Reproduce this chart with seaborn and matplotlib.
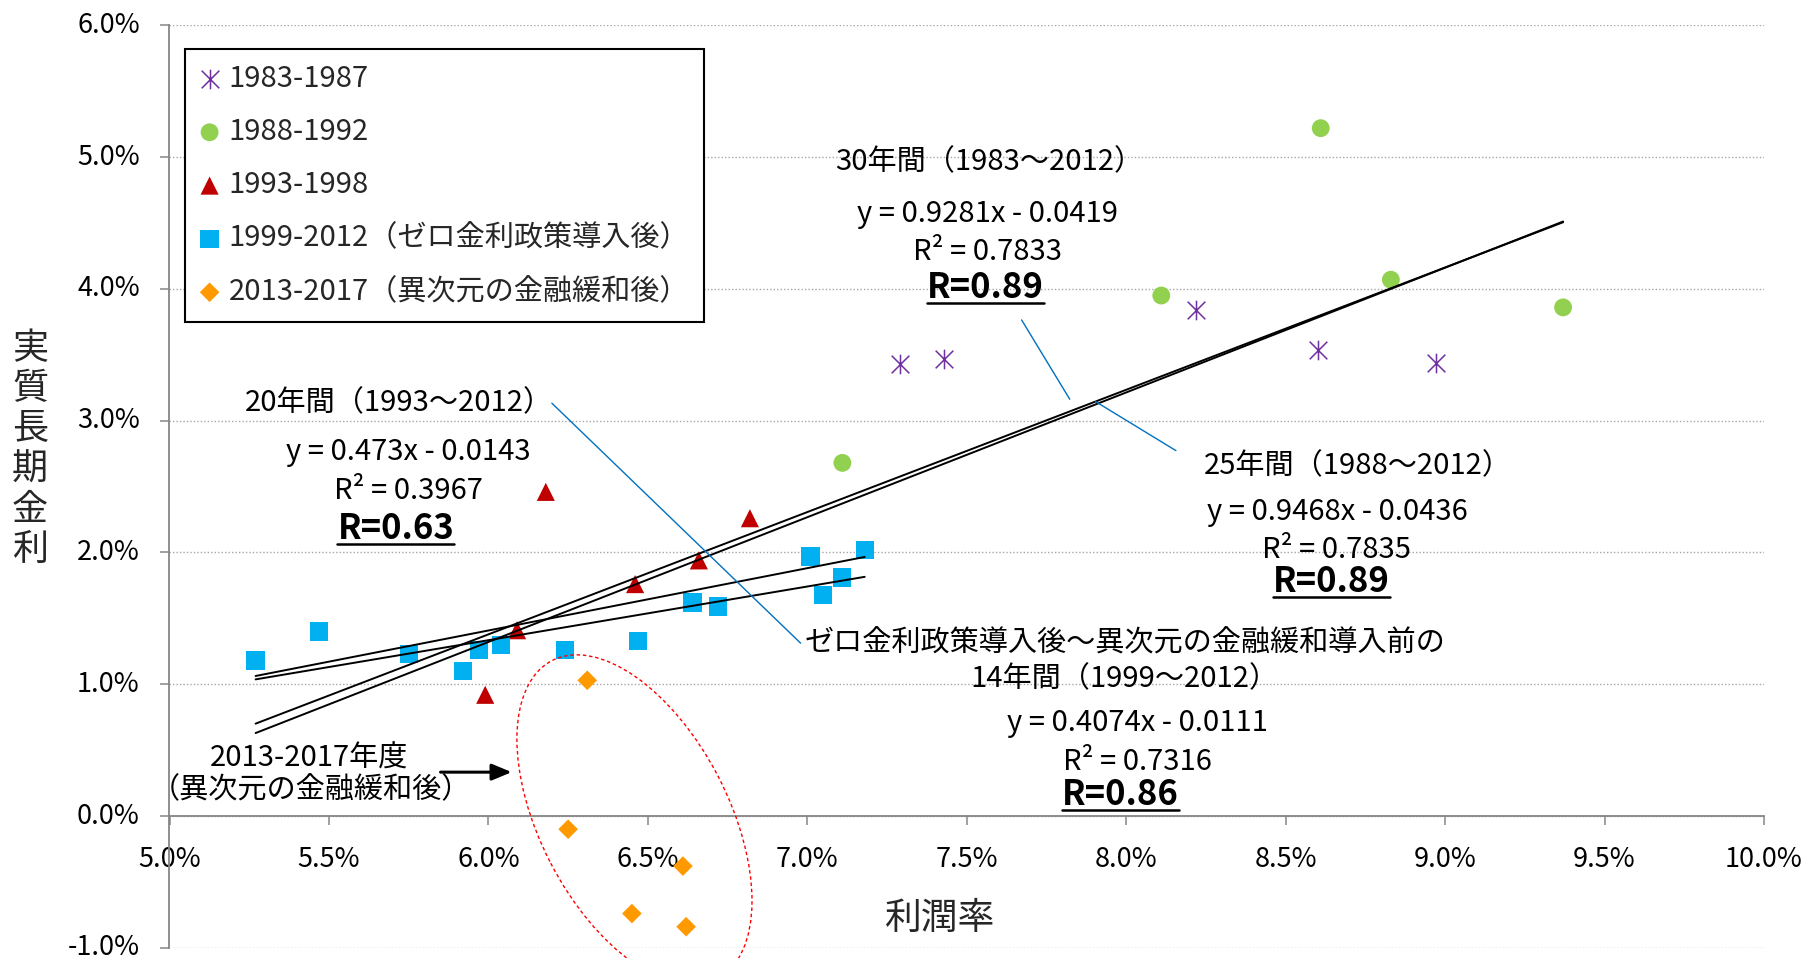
import numpy as np
import pandas as pd
import matplotlib
matplotlib.use("Agg")
import matplotlib.pyplot as plt
import matplotlib.transforms as mtransforms
import seaborn as sns
from matplotlib.path import Path
from matplotlib.patches import Ellipse
from matplotlib.lines import Line2D

# DATA  (利潤率 %, 実質長期金利 %)
periods = ["1983-1987", "1988-1992", "1993-1998",
           "1999-2012（ゼロ金利政策導入後）", "2013-2017（異次元の金融緩和後）"]
x_8387 = [7.29, 7.43, 8.22, 8.60, 8.97]
y_8387 = [3.43, 3.47, 3.84, 3.54, 3.44]
x_8892 = [8.61, 8.83, 8.11, 9.37, 7.11]
y_8892 = [5.22, 4.07, 3.95, 3.86, 2.68]
x_9398 = [6.18, 6.82, 6.66, 6.46, 6.09, 5.99]
y_9398 = [2.46, 2.26, 1.94, 1.76, 1.41, 0.92]
x_9912 = [5.27, 5.47, 5.75, 5.92, 5.97, 6.04, 6.24, 6.47, 6.64, 6.72, 7.01, 7.05, 7.11, 7.18]
y_9912 = [1.18, 1.40, 1.23, 1.10, 1.26, 1.30, 1.26, 1.33, 1.62, 1.59, 1.97, 1.68, 1.81, 2.02]
x_1317 = [6.31, 6.25, 6.61, 6.45, 6.62]
y_1317 = [1.03, -0.10, -0.38, -0.74, -0.84]

# trend lines (Excel fits, x and y as fractions)
trend_titles = ["30年間（1983～2012）", "25年間（1988～2012）",
                "20年間（1993～2012）", "14年間（1999～2012）"]
trend_slope = [0.9281, 0.9468, 0.473, 0.4074]
trend_icpt = [-0.0419, -0.0436, -0.0143, -0.0111]
trend_r2 = [0.7833, 0.7835, 0.3967, 0.7316]
trend_r = [0.89, 0.89, 0.63, 0.86]
trend_first_group = [0, 1, 2, 3]   # first period included, up to 1999-2012

xs = [x_8387, x_8892, x_9398, x_9912, x_1317]
ys = [y_8387, y_8892, y_9398, y_9912, y_1317]
df = pd.concat([pd.DataFrame({"x": a, "y": b, "period": p})
                for a, b, p in zip(xs, ys, periods)], ignore_index=True)

colors = ["#7030A0", "#92D050", "#C00000", "#00B0F0", "#FF9900"]
ast = Path([(0, -1), (0, 1), (-0.9, -0.9), (0.9, 0.9), (-0.9, 0.9), (0.9, -0.9)],
           [Path.MOVETO, Path.LINETO] * 3)
markers = [ast, "o", "^", "s", "D"]
sizes = [200, 165, 170, 172, 100]

sns.set_style("white")
plt.rcParams["font.family"] = ["Noto Sans CJK JP", "DejaVu Sans"]

fig = plt.figure(figsize=(18.08, 9.58), dpi=100)
ax = fig.add_axes([0.09375, 0.01065, 0.88191, 0.96284])

# SCATTER
for i, p in enumerate(periods):
    sub = df[df["period"] == p]
    if i == 0:
        sns.scatterplot(data=sub, x="x", y="y", ax=ax, marker=markers[i], s=sizes[i],
                        color=colors[i], edgecolor=colors[i], linewidth=1.1,
                        label=p, zorder=3)
    else:
        sns.scatterplot(data=sub, x="x", y="y", ax=ax, marker=markers[i], s=sizes[i],
                        color=colors[i], edgecolor="none", linewidth=0,
                        label=p, zorder=3)

# TREND LINES
for k in range(4):
    sub = df[df["period"].isin(periods[trend_first_group[k]:4])]
    lx = np.array([sub["x"].min(), sub["x"].max()])
    ly = trend_slope[k] * lx + trend_icpt[k] * 100
    sns.lineplot(x=lx, y=ly, ax=ax, color="black", lw=1.4, zorder=4)

ax.set_xlim(5, 10)
ax.set_ylim(-1, 6)
ax.set_xticks(np.arange(5, 10.01, 0.5))
ax.set_xticklabels([f"{v:.1f}%" for v in np.arange(5, 10.01, 0.5)])
ax.set_yticks(range(-1, 7))
ax.set_yticklabels([f"{v:.1f}%" for v in range(-1, 7)])
for lab in ax.get_yticklabels():
    lab.set_va("center")
ax.set_xlabel("")
ax.set_ylabel("")

ax.spines["top"].set_visible(False)
ax.spines["right"].set_visible(False)
ax.spines["bottom"].set_position(("data", 0))
for s in ["left", "bottom"]:
    ax.spines[s].set_color("#868686")
    ax.spines[s].set_linewidth(1.3)
ax.yaxis.grid(True, linestyle=(0, (1, 1.5)), color="#A6A6A6", lw=1)
ax.xaxis.grid(False)
ax.tick_params(axis="both", direction="out", length=6.5, width=1.1, color="#868686",
               labelcolor="black", labelsize=19.5, pad=15)
ax.tick_params(axis="x", bottom=True)
ax.tick_params(axis="y", left=True)

# axis titles
ax.text(0.4834, 0.0204, "利潤率", transform=ax.transAxes, ha="center", va="baseline",
        fontsize=26.5)
ax.text(-0.0875, 0.5403, "\n".join("実質長期金利"), transform=ax.transAxes,
        ha="center", va="center", multialignment="center", fontsize=26, linespacing=1.15)

# LEGEND
leg = ax.legend(loc="upper left", bbox_to_anchor=(0.0096, 0.9744), borderaxespad=0,
                frameon=True, fancybox=False, edgecolor="black", framealpha=1,
                fontsize=21, handlelength=0.7, handletextpad=0.3, borderpad=0.5,
                labelspacing=0.8, scatterpoints=1)
leg.get_frame().set_linewidth(1.5)

# ANNOTATIONS
tkw = dict(ha="center", va="baseline", fontsize=21, color="black", zorder=6)
bkw = dict(ha="center", va="baseline", fontsize=25, fontweight="bold", color="black", zorder=6)

title_pos = [(7.571, 4.900), (8.728, 2.594), (5.720, 3.069), (7.996, 0.978)]
eq_pos = [(7.564, 4.511), (8.662, 2.247), (5.749, 2.703), (8.034, 0.646)]
r2_pos = [(7.564, 4.220), (8.660, 1.957), (5.750, 2.404), (8.035, 0.351)]
r_pos = [(7.558, 3.929), (8.643, 1.703), (5.710, 2.101), (7.982, 0.085)]

r_texts = []
for k in range(4):
    ax.text(*title_pos[k], trend_titles[k], **tkw)
    ax.text(*eq_pos[k], f"y = {trend_slope[k]}x - {abs(trend_icpt[k])}", **tkw)
    ax.text(*r2_pos[k], f"R² = {trend_r2[k]}", **tkw)
    r_texts.append(ax.text(*r_pos[k], f"R={trend_r[k]:.2f}", **bkw))

ax.text(7.996, 1.248, "ゼロ金利政策導入後～異次元の金融緩和導入前の", **tkw)
ax.text(5.439, 0.376, "2013-2017年度", **tkw)
ax.text(5.443, 0.136, "（異次元の金融緩和後）", **tkw)

# leader lines
leaders = [((6.199, 3.133), (6.979, 1.312)),
           ((7.672, 3.765), (7.823, 3.163)),
           ((7.904, 3.145), (8.156, 2.773))]
for a, b in leaders:
    ax.plot([a[0], b[0]], [a[1], b[1]], color="#0070C0", lw=1.0, zorder=5)

# arrow
ax.annotate("", xy=(6.073, 0.333), xytext=(5.850, 0.333),
            arrowprops=dict(arrowstyle="-|>,head_length=0.6,head_width=0.25",
                            color="black", lw=2.2, mutation_scale=20,
                            shrinkA=0, shrinkB=0))

# dotted ellipse around 2013-2017
ell_tr = fig.dpi_scale_trans + mtransforms.ScaledTranslation(6.458, -0.029, ax.transData)
ell = Ellipse((0, 0), width=3.586, height=1.886, angle=-62.6, transform=ell_tr,
              fill=False, edgecolor="#FF0000", lw=1.0, linestyle=(0, (2.5, 2)),
              clip_on=False, zorder=5)
ax.add_patch(ell)

# underline the bold R values
fig.canvas.draw()
renderer = fig.canvas.get_renderer()
inv = fig.transFigure.inverted()
for t in r_texts:
    bb = t.get_window_extent(renderer)
    bx, by = ax.transData.transform(t.get_position())
    p0 = inv.transform((bb.x0, by - 5))
    p1 = inv.transform((bb.x1, by - 5))
    fig.add_artist(Line2D([p0[0], p1[0]], [p0[1], p1[1]], transform=fig.transFigure,
                          color="black", lw=1.8))

fig.savefig("out.png", dpi=100)
